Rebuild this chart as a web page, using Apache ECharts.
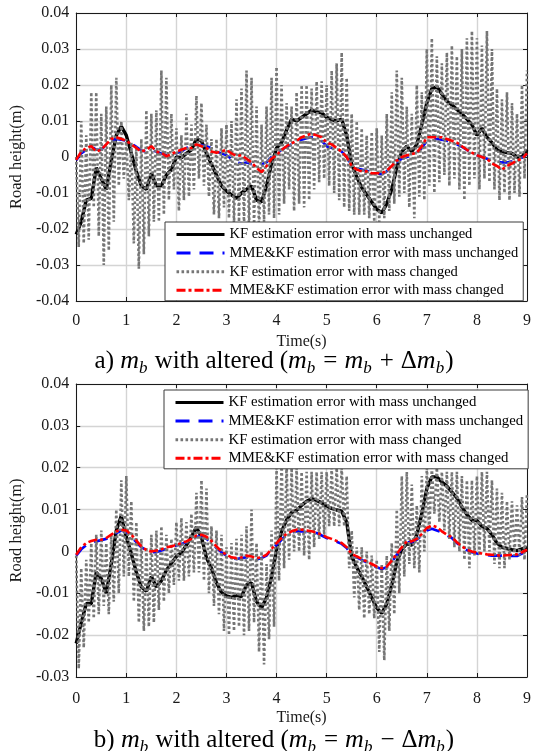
<!DOCTYPE html>
<html>
<head>
<meta charset="utf-8">
<script src="https://cdn.jsdelivr.net/npm/echarts@6/dist/echarts.min.js"></script>
<style>
  html, body { margin: 0; padding: 0; background: #ffffff; }
  #chart { width: 534px; height: 751px; }
</style>
</head>
<body>
<div id="chart"></div>
<script>
// Road-height estimation errors (values in mm, plotted in metres), sampled every 0.1 s.
const timeS = [0,0.1,0.2,0.3,0.4,0.5,0.6,0.7,0.8,0.9,1,1.1,1.2,1.3,1.4,1.5,1.6,1.7,1.8,1.9,2,2.1,2.2,2.3,2.4,2.5,2.6,2.7,2.8,2.9,3,3.1,3.2,3.3,3.4,3.5,3.6,3.7,3.8,3.9,4,4.1,4.2,4.3,4.4,4.5,4.6,4.7,4.8,4.9,5,5.1,5.2,5.3,5.4,5.5,5.6,5.7,5.8,5.9,6,6.1,6.2,6.3,6.4,6.5,6.6,6.7,6.8,6.9,7,7.1,7.2,7.3,7.4,7.5,7.6,7.7,7.8,7.9,8,8.1,8.2,8.3,8.4,8.5,8.6,8.7,8.8,8.9,9];
// trough samples of the oscillating KF (mass changed) error sit half a step after each peak sample
const troughOffset = 0.05;

const seriesNames = [
  'KF estimation error with mass unchanged',
  'MME&KF estimation error with mass unchanged',
  'KF estimation error with mass changed',
  'MME&KF estimation error with mass changed'
];

// a) m_b increased
const kfUnchangedA = [-21.5,-18,-12,-11.5,-3,-6,-9,-1,6,8.5, 6,1,-4,-8,-9,-4.5,-8,-8,-5,-3.5, 0,-0.2,1,2,5,4.5,1,-2,-5,-8, -9.5,-10.5,-11.5,-10,-9,-8,-12,-12.5,-8,-2, 2.5,4,7.5,10.5,10,11,12,13,12.5,12.3, 11,10.4,10,10.5,6,-2,-5.5,-8.5,-10.5,-12.5, -14.5,-15.5,-13,-9,-3,1.5,3,1.5,3.5,9, 15,19,19.5,17.5,15.5,14.5,13.2,12,10.5,9, 6,8,5.5,4,2,1.5,1.2,1,0,0, 2];
const mmeUnchangedA = [-0.9,1,2,3,2,2,3.5,4.5,5,4.8, 4.5,3.8,2.8,1.8,1.5,2,1.5,1,0.5,0.5, 1,1.5,2.5,3,3.2,3.3,3,2.5,1.5,1, 0.5,-0.5,-1.5,-1.8,-1.5,-2,-2.2,-2,-1.5,0, 1,2,2.8,3.5,4.2,4.8,5.2,5.5,5.2,4.5, 3,2.5,2.2,1.5,0,-2.5,-3.2,-3.5,-3.8,-4.2, -4.5,-4.8,-4,-2.5,-1.5,-0.5,0,0.5,1.2,2.5, 4.5,5,5,4.8,4.5,4,3.5,2.8,2,1, 0.5,0,-0.5,-1,-1.2,-1.5,-1.5,-1.2,-0.8,-0.2, 0.8];
const kfChangedPeakA = [0,10,6,18,18,12,14,20,22,10, 5,4,3,5,13,12,13,24,22,12, 8,6,12,9,17,15,9,5,5,8, 9,10,16,19,24,22,14,9,14,22, 25,20,15,14,18,20,20,19,21,21, 20,24,26,29,22,12,10,8,6,7, 8,6,12,18,24,22,14,12,20,18, 30,33,28,26,29,31,28,30,33,35, 33,31,35,30,19,16,18,15,12,20, 24];
const kfChangedTroughA = [-25,-24,-23,-14,-22,-30,-26,-18,-8,-6, -12,-24,-31,-27,-22,-18,-18,-16,-12,-9, -15,-12,-11,-9,-6,-8,-11,-16,-17,-14, -17,-19,-18,-20,-21,-20,-21,-18,-16,-17, -16,-13,-9,-15,-13,-14,-12,-9,-7,-6, -8,-10,-12,-14,-15,-16,-16,-16,-17,-18, -18,-17,-15,-13,-11,-10,-14,-17,-11,-12, -8,-10,-7,-5,-8,-6,-9,-12,-8,-6, -9,-6,-7,-9,-12,-10,-12,-10,-11,-6];
const mmeChangedA = [-0.8,1.5,2.5,3,1.5,2,3.5,5,5.5,5, 4.5,3.5,2.5,1.5,2,3,1.5,1.2,0.2,0.8, 1.5,2,2.5,2.5,3.5,3,2.5,1.5,1.2,1.5, 2,1,0.3,0.5,-0.5,-1.5,-3,-4.2,-2.5,-0.5, 0.5,2,3,3.8,4.5,5.5,6,6.5,6,5.5, 4,3.5,2.5,1.5,0,-2.5,-3.5,-4,-4,-4.5, -4.5,-4.5,-3.8,-2.5,-1,0,0.5,0.8,1.2,3, 5.5,5.5,5.5,5.5,5,4.5,4,3,2,1.2, 0.5,0,-0.5,-1.8,-2.5,-3.5,-2.5,-1.8,-1,-0.5, 1];

// b) m_b decreased
const kfUnchangedB = [-22,-17,-12.5,-12.5,-5,-6.5,-10,-3,5,8.5, 3.5,-0.5,-5,-8.5,-9.5,-6,-8.5,-7,-4.5,-2.8, -1.2,-0.3,1.5,3.5,5.8,3.4,-1.5,-4,-7.5,-9.8, -10.6,-11,-10.5,-10.8,-8,-7.5,-12,-13.5,-11,-6, 0.5,4.8,7.5,9.3,9.8,11,12,12.6,12.2,11.6, 10.8,10.3,9.9,9.6,7,-1.2,-3.8,-6,-8.5,-11, -13.5,-14.8,-12.5,-8,-2.5,0.5,1.8,1.5,4,9, 15,17.8,17.8,16.6,15.6,14.2,12.8,10.6,8.8,7.4, 7.4,6,5.5,4,2,1,0.7,0.4,0.2,0.6, 1];
const mmeUnchangedB = [-1,0.5,1.5,2,2.4,2.7,3,3.6,4.4,5, 4.6,3.5,2.2,1,0.3,-0.2,-0.2,0.2,0.6,1, 1.4,1.8,2.2,2.8,3.5,3.6,3,2,0.8,-0.2, -1,-1.6,-1.8,-1.6,-1.4,-1.6,-1.9,-1.6,-1,0.5, 1.6,2.8,4,4.5,4.8,4.8,4.6,4.6,4.4,3.8, 3.2,2.8,2.3,1.8,0.8,-0.8,-1.4,-2,-2.6,-3.2, -3.8,-4.2,-3.8,-2.6,-0.8,0.8,2.2,2.2,2.8,3.8, 5,5.4,5,4.5,3.8,3.2,2,1,0.3,-0.2, -0.5,-0.7,-0.9,-1,-1,-1,-1,-1.1,-1.1,-0.5, 0.2];
const kfChangedPeakB = [-1,-4,-2,2,4,5,2,4,10,17, 18,12,7,3,1,4,5,6,4,3, 7,8,7,9,14,17,15,6,5,4, 1,2,3,4,6,10,2,0,-3,5, 20,22,21,20,20,19,19,19,19,19, 19,20,20,20,18,5,1,1,0,-1, -2,-3,-1,2,10,18,19,16,11,18, 20,20,20,19,19,19,19,18,17,17, 18,19,19,17,15,14,12,12,11,13, 14];
const kfChangedTroughB = [-28,-23,-17,-16,-15,-13,-15,-12,-10,-6, -6,-12,-17,-19,-18,-17,-14,-12,-10,-8, -7,-7,-6,-5,-5,-7,-10,-13,-15,-19, -20,-19,-18,-20,-19,-17,-24,-27,-21,-18, -7,-4,-2,0,0,-1,-2,1,3,4, 6,6,6,6,-4,-11,-14,-16,-15,-16, -24,-26,-19,-15,-10,-6,-3,-4,-5,0, 5,9,7,5,3,1,0,-2,-4,-1, -1,0,0,-3,-4,-4,-2,-1,-1,-2];
const mmeChangedB = [-0.8,1,2,2.5,2.8,2.8,3.2,4,4.8,5.2, 5,4,2.6,1.2,0.3,0,0.2,0.5,1,1.2, 1.6,2,2.4,3,3.8,4,3.5,2.5,1.2,0, -0.8,-1.4,-1.6,-1.4,-1,-1.2,-1.6,-1.4,-0.8,0.6, 2,3.2,4.2,4.8,5.2,5.2,5,4.8,4.5,4, 3.4,3,2.5,2,1,-0.6,-1.2,-1.8,-2.4,-3, -3.6,-4,-3.6,-2.2,-0.6,1,2.4,2.4,3,4.2, 5.6,6.2,5.8,4.8,4,3.4,2.2,1.2,0.4,0, -0.3,-0.5,-0.7,-0.8,-0.9,-1,-0.9,-0.8,-0.7,-0.2, 0.4];

const FONT = '"Liberation Serif", "Times New Roman", serif';
const toMetre = v => v / 1000;

function pairs(values) {
  return values.map((v, i) => [timeS[i], toMetre(v)]);
}
// peaks on the sample grid, troughs between them
function oscillating(peaks, troughs) {
  const out = [];
  peaks.forEach((p, i) => {
    out.push([timeS[i], toMetre(p)]);
    if (i < troughs.length) out.push([timeS[i] + troughOffset, toMetre(troughs[i])]);
  });
  return out;
}

const styles = [
  { color: '#000000', width: 3.4, type: 'solid' },
  { color: '#0000ff', width: 2.6, type: [14, 9] },
  { color: '#767676', width: 2.6, type: [2.6, 2.4] },
  { color: '#ff0000', width: 2.6, type: [9, 3, 3, 3] }
];

function plotSeries(gridIdx, blocks) {
  return blocks.map((data, k) => ({
    name: seriesNames[k],
    type: 'line',
    xAxisIndex: gridIdx,
    yAxisIndex: gridIdx,
    data: data,
    symbol: 'none',
    showSymbol: false,
    clip: true,
    z: 2 + k,
    lineStyle: { color: styles[k].color, width: styles[k].width, type: styles[k].type },
    itemStyle: { color: styles[k].color },
    emphasis: { disabled: true }
  }));
}

const gridLine = { show: true, lineStyle: { color: '#d4d4d4', width: 1.4 } };
const labelStyle = { fontFamily: FONT, fontSize: 16, color: '#1a1a1a' };

function timeAxis(gridIdx, labelMargin, nameGap) {
  return {
    type: 'value', gridIndex: gridIdx, min: 0, max: 9, interval: 1,
    position: 'bottom',
    name: 'Time(s)', nameLocation: 'middle', nameGap: nameGap,
    nameTextStyle: { fontFamily: FONT, fontSize: 16, color: '#1a1a1a' },
    axisLine: { show: true, onZero: false, lineStyle: { color: '#1a1a1a', width: 1 } },
    axisTick: { show: true, inside: true, length: 4, lineStyle: { color: '#1a1a1a' } },
    axisLabel: Object.assign({ margin: labelMargin }, labelStyle),
    splitLine: gridLine
  };
}
function heightAxis(gridIdx, min, nameGap) {
  return {
    type: 'value', gridIndex: gridIdx, min: min, max: 0.04, interval: 0.01,
    position: 'left',
    name: 'Road height(m)', nameLocation: 'middle', nameGap: nameGap,
    nameTextStyle: { fontFamily: FONT, fontSize: 16.5, color: '#1a1a1a' },
    axisLine: { show: true, onZero: false, lineStyle: { color: '#1a1a1a', width: 1 } },
    axisTick: { show: true, inside: true, length: 4, lineStyle: { color: '#1a1a1a' } },
    axisLabel: Object.assign({ margin: 7, formatter: v => (Math.abs(v) < 1e-9 ? '0' : v.toFixed(2)) }, labelStyle),
    splitLine: gridLine
  };
}
function frameAxis(gridIdx, pos, min, max, interval) {
  return {
    type: 'value', gridIndex: gridIdx, min: min, max: max, interval: interval, position: pos,
    axisLine: { show: true, onZero: false, lineStyle: { color: '#1a1a1a', width: 1 } },
    axisTick: { show: true, inside: true, length: 4, lineStyle: { color: '#1a1a1a' } },
    axisLabel: { show: false }, splitLine: { show: false }
  };
}

function legendBox(top, left, fontSize) {
  return {
    orient: 'vertical', left: left, top: top,
    data: seriesNames,
    itemWidth: 48, itemHeight: 14, itemGap: 3.6,
    padding: [5, 5, 3, 10],
    backgroundColor: '#ffffff', borderColor: '#3a3a3a', borderWidth: 1,
    itemStyle: { opacity: 0 },
    lineStyle: { width: 3 },
    textStyle: { fontFamily: FONT, fontSize: fontSize, color: '#000000' },
    selectedMode: false,
    z: 10
  };
}

function caption(letter, sign, cx, cy) {
  return {
    type: 'text', x: cx, y: cy, z: 20,
    style: {
      text: letter + ') {i|m}{s|b} with altered ({i|m}{s|b}{op|=}{i|m}{s|b}{op|' + sign + '}Δ{i|m}{s|b})',
      align: 'center', verticalAlign: 'middle',
      fontFamily: FONT, fontSize: 25, fill: '#000000', lineHeight: 30,
      rich: {
        i: { fontFamily: FONT, fontStyle: 'italic', fontSize: 26, lineHeight: 30 },
        s: { fontFamily: FONT, fontStyle: 'italic', fontSize: 17, lineHeight: 17, padding: [16, 1, 0, 0] },
        op: { fontFamily: FONT, fontSize: 25, lineHeight: 30, padding: [0, 7, 0, 7] }
      }
    }
  };
}

const option = {
  animation: false,
  backgroundColor: '#ffffff',
  grid: [
    { left: 72, top: 13, width: 455, height: 288, containLabel: false },
    { left: 69, top: 384, width: 464, height: 293, containLabel: false }
  ],
  xAxis: [
    timeAxis(0, 12, 33),
    timeAxis(1, 14, 33),
    frameAxis(0, 'top', 0, 9, 1),
    frameAxis(1, 'top', 0, 9, 1)
  ],
  yAxis: [
    heightAxis(0, -0.04, 37),
    heightAxis(1, -0.03, 34),
    frameAxis(0, 'right', -0.04, 0.04, 0.01),
    frameAxis(1, 'right', -0.03, 0.04, 0.01)
  ],
  legend: [legendBox(222, 165, 14.5), legendBox(390, 164, 14.8)],
  series: [
    ...plotSeries(0, [pairs(kfUnchangedA), pairs(mmeUnchangedA), oscillating(kfChangedPeakA, kfChangedTroughA), pairs(mmeChangedA)]),
    ...plotSeries(1, [pairs(kfUnchangedB), pairs(mmeUnchangedB), oscillating(kfChangedPeakB, kfChangedTroughB), pairs(mmeChangedB)])
  ],
  graphic: [caption('a', '+', 274, 361), caption('b', '−', 274, 740)]
};

const chart = echarts.init(document.getElementById('chart'), null, { renderer: 'canvas' });
chart.setOption(option);
</script>
</body>
</html>
